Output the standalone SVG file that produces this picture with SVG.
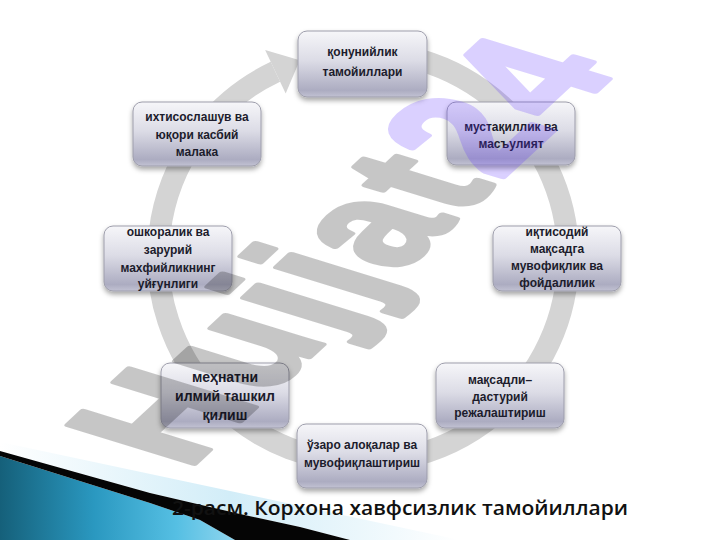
<svg xmlns="http://www.w3.org/2000/svg" width="720" height="540" viewBox="0 0 720 540">
<defs>
<linearGradient id="boxg" x1="0" y1="0" x2="0" y2="1">
<stop offset="0" stop-color="#f6f6f9"/>
<stop offset="0.45" stop-color="#dcdce6"/>
<stop offset="0.9" stop-color="#acacc1"/>
<stop offset="1" stop-color="#c2c2d3"/>
</linearGradient>
<linearGradient id="teal" x1="0" y1="0" x2="1" y2="0">
<stop offset="0" stop-color="#15607a"/>
<stop offset="0.4" stop-color="#2a98c0"/>
<stop offset="0.75" stop-color="#55bfe3"/>
<stop offset="1" stop-color="#8fd5ee"/>
</linearGradient>
<linearGradient id="pale" x1="0" y1="0" x2="1" y2="0">
<stop offset="0" stop-color="#ffffff"/>
<stop offset="0.5" stop-color="#d2edf8"/>
<stop offset="1" stop-color="#ffffff"/>
</linearGradient>
<filter id="sh" x="-10%" y="-10%" width="120%" height="130%">
<feDropShadow dx="0" dy="3" stdDeviation="2.5" flood-color="#000" flood-opacity="0.35"/>
</filter>
<marker id="ah" markerUnits="userSpaceOnUse" markerWidth="40" markerHeight="60" refX="0" refY="24" orient="auto" viewBox="0 0 40 60" overflow="visible">
<path d="M0,0 L27,24 L0,48 z" fill="#d4d4d4"/>
</marker>
<style>
.box{fill:url(#boxg);stroke:#9d9dab;stroke-width:1;filter:url(#sh)}
.t{font-family:"Liberation Sans",Arial,sans-serif;font-weight:bold;font-size:12px;fill:#1c1c2c;text-anchor:middle}
.tl{font-size:14px}
.ring{fill:none;stroke:#d4d4d4;stroke-width:22}
</style>
</defs>
<rect width="720" height="540" fill="#ffffff"/>
<g id="connectors">
<path class="ring" d="M398.6,55.1 A205,205 0 1 1 275.4,71.7" marker-end="url(#ah)"/>
</g>
<g id="n1"><rect class="box" x="298" y="31" width="129" height="66" rx="9"/>
<text class="t" x="362.5" y="56">қонунийлик</text><text class="t" x="362.5" y="76">тамойиллари</text></g>
<g id="n2"><rect class="box" x="447" y="102" width="128" height="63" rx="9"/>
<text class="t" x="511" y="131">мустақиллик ва</text><text class="t" x="511" y="148">масъулият</text></g>
<g id="n3"><rect class="box" x="493" y="226" width="128" height="65" rx="9"/>
<text class="t" x="557" y="236">иқтисодий</text><text class="t" x="557" y="253">мақсадга</text><text class="t" x="557" y="270">мувофиқлик ва</text><text class="t" x="557" y="287">фойдалилик</text></g>
<g id="n4"><rect class="box" x="436" y="363" width="128" height="65" rx="9"/>
<text class="t" x="500" y="384">мақсадли–</text><text class="t" x="500" y="401">дастурий</text><text class="t" x="500" y="417">режалаштириш</text></g>
<g id="n5"><rect class="box" x="297" y="424" width="130" height="64" rx="9"/>
<text class="t" x="362" y="449">ўзаро алоқалар ва</text><text class="t" x="362" y="467">мувофиқлаштириш</text></g>
<g id="n6"><rect class="box" x="161" y="363" width="128" height="65" rx="9"/>
<text class="t tl" x="225" y="382">меҳнатни</text><text class="t tl" x="225" y="401">илмий ташкил</text><text class="t tl" x="225" y="420">қилиш</text></g>
<g id="n7"><rect class="box" x="104" y="226" width="128" height="65" rx="9"/>
<text class="t" x="168" y="236">ошкоралик ва</text><text class="t" x="168" y="254">зарурий</text><text class="t" x="168" y="272">махфийликнинг</text><text class="t" x="168" y="288">уйғунлиги</text></g>
<g id="n8"><rect class="box" x="133" y="102" width="128" height="64" rx="9"/>
<text class="t" x="197" y="121">ихтисослашув ва</text><text class="t" x="197" y="139">юқори касбий</text><text class="t" x="197" y="156">малака</text></g>
<g id="watermark" opacity="0.22">
<text transform="matrix(0.69 -0.64 1.215 0.374 187 470)" font-family="Liberation Sans, Arial, sans-serif" font-weight="bold" font-size="150" letter-spacing="6" stroke-width="6" stroke-linejoin="round"><tspan fill="#000" stroke="#000">Hujjat</tspan><tspan fill="#5a2dff" stroke="#5a2dff">24</tspan></text>
</g>
<g id="corner">
<polygon points="0,442 460,540 350,540 300,527 240,514 150,493 0,451" fill="url(#pale)"/>
<polygon points="0,456 150,503 200,520 235,540 0,540" fill="url(#teal)"/>
<polygon points="0,451 150,493 240,514 300,527 350,540 235,540 200,520 150,503 0,456" fill="#050505"/>
</g>
<text id="caption" x="172" y="515" textLength="456" lengthAdjust="spacingAndGlyphs" font-family="Open Sans, Liberation Sans, sans-serif" font-weight="600" font-size="19" fill="#111">2-расм. Корхона хавфсизлик тамойиллари</text>
</svg>
